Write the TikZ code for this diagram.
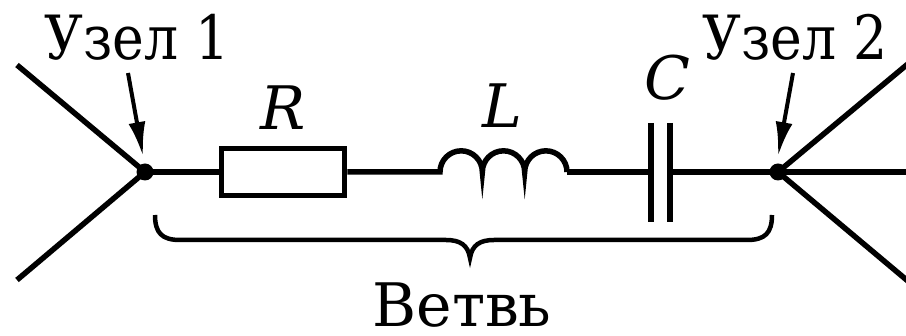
\documentclass[tikz,border=0pt]{standalone}
\usepackage{fontspec}
\setmainfont{DejaVu Serif}
\newfontfamily\narrowserif{DejaVu Serif}[FakeStretch=0.88]
\usetikzlibrary{arrows.meta}
\begin{document}
\begin{tikzpicture}[x=1pt,y=1pt,
  wire/.style={line width=5.5pt},
  ptr/.style={line width=4pt,-{Latex[length=34pt,width=17pt]}},
  lbl/.style={font=\fontsize{60}{60}\selectfont,anchor=base,inner sep=0pt},
  nlbl/.style={font=\narrowserif\fontsize{61}{61}\selectfont,anchor=base,inner sep=0pt},
  ilbl/.style={font=\fontsize{60}{60}\selectfont\itshape,anchor=base,inner sep=0pt},
  dot/.style={circle,fill=black,inner sep=0pt,minimum size=17pt}]
\useasboundingbox (0,0) rectangle (906,-336);
% nodes
\node[dot] (n1) at (145,-172) {};
\node[dot] (n2) at (778,-172) {};
% outer wires
\coordinate (l1) at (17,-65);
\coordinate (l2) at (17,-280);
\coordinate (r1) at (915,-58);
\coordinate (r2) at (915,-172);
\coordinate (r3) at (915,-287);
\draw[wire] (l1) -- (n1.center) -- (l2);
\draw[wire] (r1) -- (n2.center) -- (r3);
\draw[wire] (n2.center) -- (r2);
% resistor
\node[draw,line width=5.5pt,minimum width=123pt,minimum height=47pt,inner sep=0pt] (R) at (283,-172) {};
\draw[wire] (n1.center) -- (R.west);
% inductor
\coordinate (La) at (440,-172);
\coordinate (Lb) at (567,-172);
\draw[wire] (R.east) -- (La)
  arc[start angle=180,end angle=0,radius=21.17]
  arc[start angle=180,end angle=0,radius=21.17]
  arc[start angle=180,end angle=0,radius=21.17] -- (Lb);
% capacitor
\coordinate (C1) at (651,-172);
\coordinate (C2) at (670,-172);
\draw[wire] (Lb) -- (C1);
\draw[wire] (C2) -- (n2.center);
\draw[wire] (651,-123) -- (651,-222);
\draw[wire] (670,-123) -- (670,-222);
% labels
\node[nlbl] (t1) at (137,-60) {Узел 1};
\node[nlbl] (t2) at (795,-60) {Узел 2};
\node[ilbl] (tR) at (283,-130) {R};
\node[ilbl] (tL) at (502,-128) {L};
\node[ilbl] (tC) at (667,-100) {C};
\node[lbl] (tB) at (462,-327) {Ветвь};
% pointer arrows
\coordinate (a1) at (128,-73);
\coordinate (a2) at (793,-73);
\draw[ptr] (a1) -- (143,-156);
\draw[ptr] (a2) -- (778,-156);
% brace
\draw[line width=4.5pt] (155,-215) .. controls (155,-233) and (162,-240) .. (180,-240) -- (446,-240)
  .. controls (460,-240) and (468,-245) .. (470,-258)
  .. controls (472,-245) and (480,-240) .. (494,-240) -- (747,-240)
  .. controls (765,-240) and (772,-233) .. (772,-215);
\end{tikzpicture}
\end{document}
